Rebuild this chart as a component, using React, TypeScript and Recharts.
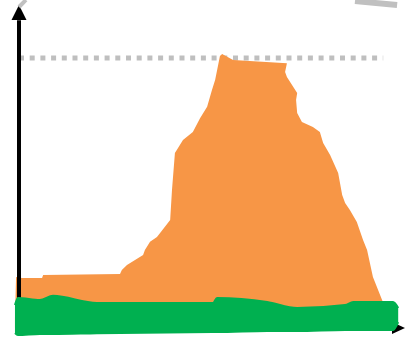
import React from 'react';
import { ComposedChart, Area, XAxis, YAxis, ReferenceLine, ReferenceDot } from 'recharts';

// orange series: [x position, value] (100 = dotted target)
const orangeX = [-1.1, -0.8, 0.8, 6.3, 6.6, 27.6, 28.1, 29.5, 33.9, 34.4, 35.8, 37.7, 41.3, 41.8, 42.6, 44.8, 47.5, 49.5, 51.4, 52.7, 53.6, 54.9, 55.5, 58.5, 73.2, 72.7, 73.2, 76.0, 75.7, 76.0, 77.3, 80.3, 82.2, 83.1, 85.0, 87.2, 88.3, 89.1, 90.4, 92.3, 94.0, 95.1, 96.7, 99.2, 100.3];
const orangeY = [3.7, 18.9, 18.5, 18.5, 19.6, 20.0, 21.5, 23.3, 27.0, 28.9, 31.9, 33.7, 40.0, 51.1, 64.8, 69.6, 72.6, 77.8, 81.9, 88.1, 91.9, 100.7, 101.5, 99.3, 98.1, 94.8, 93.0, 87.0, 84.4, 79.6, 76.3, 74.4, 72.6, 68.5, 64.1, 57.4, 49.3, 46.3, 43.7, 39.3, 32.6, 28.9, 18.9, 10.4, 6.7];

// green band: low and high edges
const greenX = [-1.1, -0.3, 5.7, 9.3, 21.3, 53.0, 54.1, 67.8, 76.0, 89.1, 91.3, 102.2, 103.6];
const greenHigh = [8.5, 11.1, 10.4, 11.9, 9.3, 9.3, 11.1, 9.6, 7.4, 8.5, 9.6, 9.6, 7.4];
const greenLow = [-1.9, -2.6, -2.2, -2.2, -1.9, -1.5, -1.5, -1.1, -1.1, -0.7, -0.7, -0.7, 2.2];

const target = 100;

const orangeData = orangeX.map((x, i) => ({ x, v: orangeY[i] }));
const greenData = greenX.map((x, i) => ({ x, band: [greenLow[i], greenHigh[i]] }));

const ArrowUp = (props: any) => {
  const { cx, cy } = props;
  return <polygon points={`${cx},${cy} ${cx - 7.5},${cy + 15} ${cx + 7.5},${cy + 15}`} fill="#000" />;
};

const ArrowRight = (props: any) => {
  const { cx, cy } = props;
  return <polygon points={`${cx},${cy} ${cx - 13},${cy - 6} ${cx - 13},${cy + 6}`} fill="#000" />;
};

export default function App() {
  return (
    <div style={{ position: 'absolute', left: 0, top: 0 }}>
      <ComposedChart width={405} height={337} margin={{ top: 0, right: 0, bottom: 0, left: 0 }}>
        <XAxis type="number" dataKey="x" domain={[-5.19, 105.46]} hide allowDataOverflow />
        <YAxis type="number" domain={[-3.333, 121.481]} hide allowDataOverflow />
        <ReferenceLine
          segment={[{ x: 0, y: target }, { x: 99.5, y: target }]}
          stroke="#bfbfbf" strokeWidth={5} strokeDasharray="5 5.7" ifOverflow="visible" zIndex={50}
        />
        <Area data={orangeData} dataKey="v" type="linear" fill="#f79646" fillOpacity={1} stroke="none"
          dot={false} activeDot={false} isAnimationActive={false} zIndex={100} />
        <ReferenceLine segment={[{ x: 0, y: -0.7 }, { x: 0, y: 114 }]} stroke="#000" strokeWidth={4} ifOverflow="visible" zIndex={150} />
        <ReferenceLine segment={[{ x: -0.5, y: 0 }, { x: 101.5, y: 0 }]} stroke="#000" strokeWidth={3} ifOverflow="visible" zIndex={150} />
        <ReferenceDot x={0} y={119.6} shape={ArrowUp} ifOverflow="visible" zIndex={150} />
        <ReferenceDot x={105.46} y={0} shape={ArrowRight} ifOverflow="visible" zIndex={150} />
        <Area data={greenData} dataKey="band" type="monotone" fill="#00b050" fillOpacity={1} stroke="#00b050" strokeWidth={2}
          dot={false} activeDot={false} isAnimationActive={false} zIndex={200} />
        <ReferenceLine segment={[{ x: 91.8, y: 121.1 }, { x: 103.3, y: 119.6 }]} stroke="#c0c0c0" strokeWidth={6} ifOverflow="visible" zIndex={250} />
        <ReferenceLine segment={[{ x: 0, y: 118.9 }, { x: 1.9, y: 121.5 }]} stroke="#c0c0c0" strokeWidth={4} ifOverflow="visible" zIndex={250} />
      </ComposedChart>
    </div>
  );
}
